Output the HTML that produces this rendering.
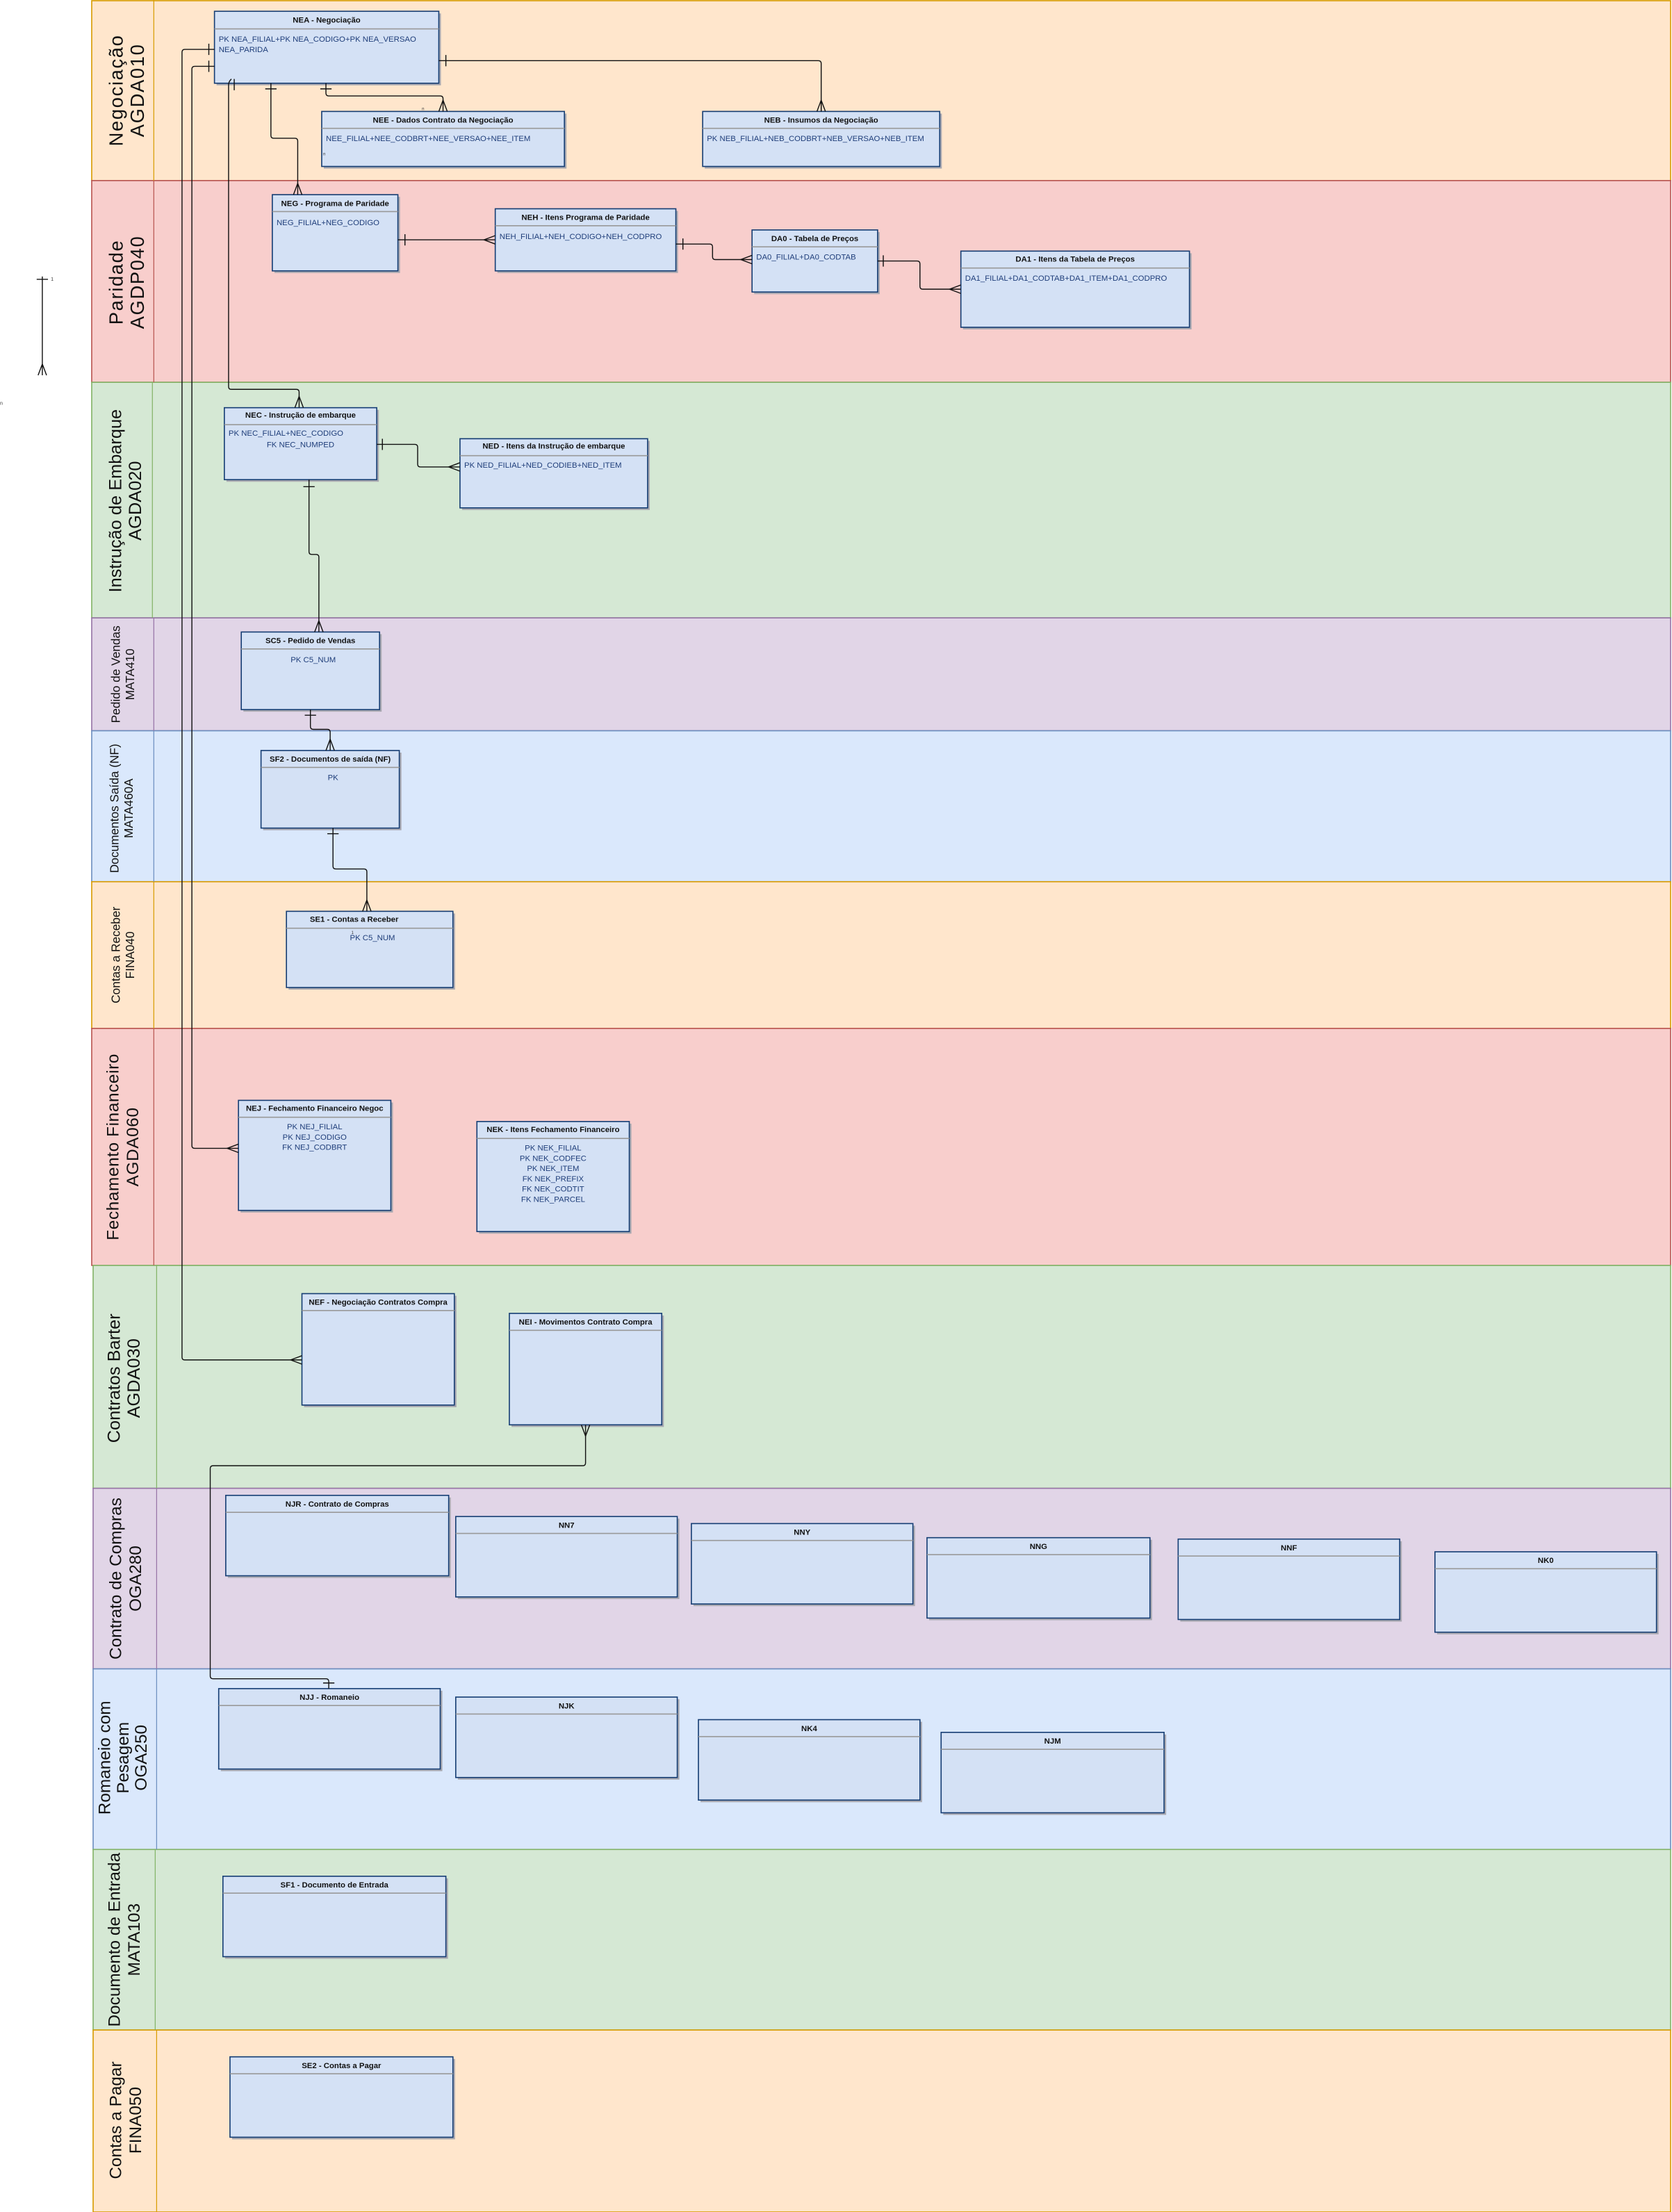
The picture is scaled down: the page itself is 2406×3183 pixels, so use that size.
<!DOCTYPE html>
<html><head><meta charset="utf-8"><style>
html,body{margin:0;padding:0;background:#fff}
svg{display:block}
.h{font-family:"Liberation Sans Narrow","Liberation Sans",sans-serif;font-size:5.6px;font-weight:bold;fill:#111;text-anchor:middle}
.a{font-family:"Liberation Sans Narrow","Liberation Sans",sans-serif;font-size:5.6px;fill:#1f3e7a}
.l{font-family:"Liberation Sans",sans-serif;fill:#111;text-anchor:middle}
.c{fill:none;stroke:#111;stroke-width:0.7}
</style></head><body>
<svg width="2406" height="3183" viewBox="0 0 1185 1568" preserveAspectRatio="none" xmlns="http://www.w3.org/2000/svg">
<g stroke-width="0.8">
<rect x="65" y="0.5" width="1119" height="127.5" fill="#ffe6cc" stroke="#d79b00"/>
<rect x="65" y="128" width="1119" height="143" fill="#f8cecc" stroke="#b85450"/>
<rect x="65" y="271" width="1119" height="167" fill="#d5e8d4" stroke="#82b366"/>
<rect x="65" y="438" width="1119" height="80" fill="#e1d5e7" stroke="#9673a6"/>
<rect x="65" y="518" width="1119" height="107" fill="#dae8fc" stroke="#6c8ebf"/>
<rect x="65" y="625" width="1119" height="104" fill="#ffe6cc" stroke="#d79b00"/>
<rect x="65" y="729" width="1119" height="168" fill="#f8cecc" stroke="#b85450"/>
<rect x="66" y="897" width="1118" height="158" fill="#d5e8d4" stroke="#82b366"/>
<rect x="66" y="1055" width="1118" height="128" fill="#e1d5e7" stroke="#9673a6"/>
<rect x="66" y="1183" width="1118" height="128" fill="#dae8fc" stroke="#6c8ebf"/>
<rect x="66" y="1311" width="1118" height="128" fill="#d5e8d4" stroke="#82b366"/>
<rect x="66" y="1439" width="1118" height="129" fill="#ffe6cc" stroke="#d79b00"/>
</g>
<g stroke-width="0.6" fill="none">
<line x1="109" y1="0" x2="109" y2="128" stroke="#d79b00"/>
<line x1="109" y1="128" x2="109" y2="271" stroke="#b85450"/>
<line x1="108" y1="271" x2="108" y2="438" stroke="#82b366"/>
<line x1="109" y1="438" x2="109" y2="518" stroke="#9673a6"/>
<line x1="109" y1="518" x2="109" y2="625" stroke="#6c8ebf"/>
<line x1="109" y1="625" x2="109" y2="729" stroke="#d79b00"/>
<line x1="109" y1="729" x2="109" y2="897" stroke="#b85450"/>
<line x1="111" y1="897" x2="111" y2="1055" stroke="#82b366"/>
<line x1="111" y1="1055" x2="111" y2="1183" stroke="#9673a6"/>
<line x1="111" y1="1183" x2="111" y2="1311" stroke="#6c8ebf"/>
<line x1="110" y1="1311" x2="110" y2="1439" stroke="#82b366"/>
<line x1="111" y1="1439" x2="111" y2="1568" stroke="#d79b00"/>
</g>
<g class="l">
<text transform="translate(87,64) rotate(-90)" font-size="13.5" letter-spacing="0.8"><tspan x="0" dy="0">Negociação</tspan><tspan x="0" dy="15">AGDA010</tspan></text>
<text transform="translate(87,200) rotate(-90)" font-size="13.5" letter-spacing="0.8"><tspan x="0">Paridade</tspan><tspan x="0" dy="15">AGDP040</tspan></text>
<text transform="translate(86,355) rotate(-90)" font-size="12.5"><tspan x="0">Instrução de Embarque</tspan><tspan x="0" dy="14">AGDA020</tspan></text>
<text transform="translate(85,478) rotate(-90)" font-size="8.5"><tspan x="0">Pedido de Vendas</tspan><tspan x="0" dy="10">MATA410</tspan></text>
<text transform="translate(84,573) rotate(-90)" font-size="8.5"><tspan x="0">Documentos Saída (NF)</tspan><tspan x="0" dy="10">MATA460A</tspan></text>
<text transform="translate(85,677) rotate(-90)" font-size="8.5"><tspan x="0">Contas a Receber</tspan><tspan x="0" dy="10">FINA040</tspan></text>
<text transform="translate(84,813) rotate(-90)" font-size="12" letter-spacing="0.3"><tspan x="0">Fechamento Financeiro</tspan><tspan x="0" dy="14">AGDA060</tspan></text>
<text transform="translate(85,977) rotate(-90)" font-size="12.5"><tspan x="0">Contratos Barter</tspan><tspan x="0" dy="14">AGDA030</tspan></text>
<text transform="translate(86,1119) rotate(-90)" font-size="12"><tspan x="0">Contrato de Compras</tspan><tspan x="0" dy="14">OGA280</tspan></text>
<text transform="translate(78,1246) rotate(-90)" font-size="12"><tspan x="0">Romaneio com</tspan><tspan x="0" dy="13">Pesagem</tspan><tspan x="0" dy="13">OGA250</tspan></text>
<text transform="translate(85,1375) rotate(-90)" font-size="12"><tspan x="0">Documento de Entrada</tspan><tspan x="0" dy="14">MATA103</tspan></text>
<text transform="translate(86,1503) rotate(-90)" font-size="12"><tspan x="0">Contas a Pagar</tspan><tspan x="0" dy="14">FINA050</tspan></text>
</g>
<g stroke-width="0.8">
<g>
<rect x="153.5" y="9.5" width="159" height="51" fill="#a8a8b0"/><rect x="152" y="8" width="159" height="51" fill="#d4e1f5" stroke="#163e74"/><line x1="152" y1="20.5" x2="311" y2="20.5" stroke="#999"/>
<text class="h" x="231.5" y="16">NEA - Negociação</text><text class="a" x="155" y="29.5">PK NEA_FILIAL+PK NEA_CODIGO+PK NEA_VERSAO</text><text class="a" x="155" y="37">NEA_PARIDA</text>
</g>
<g>
<rect x="229.5" y="80.5" width="172" height="39" fill="#a8a8b0"/><rect x="228" y="79" width="172" height="39" fill="#d4e1f5" stroke="#163e74"/><line x1="228" y1="91" x2="400" y2="91" stroke="#999"/>
<text class="h" x="314" y="87">NEE - Dados Contrato da Negociação</text><text class="a" x="231" y="100">NEE_FILIAL+NEE_CODBRT+NEE_VERSAO+NEE_ITEM</text>
</g>
<g>
<rect x="499.5" y="80.5" width="168" height="39" fill="#a8a8b0"/><rect x="498" y="79" width="168" height="39" fill="#d4e1f5" stroke="#163e74"/><line x1="498" y1="91" x2="666" y2="91" stroke="#999"/>
<text class="h" x="582" y="87">NEB - Insumos da Negociação</text><text class="a" x="501" y="100">PK NEB_FILIAL+NEB_CODBRT+NEB_VERSAO+NEB_ITEM</text>
</g>
<g>
<rect x="194.5" y="139.5" width="89" height="54" fill="#a8a8b0"/><rect x="193" y="138" width="89" height="54" fill="#d4e1f5" stroke="#163e74"/><line x1="193" y1="150" x2="282" y2="150" stroke="#999"/>
<text class="h" x="237.5" y="146">NEG - Programa de Paridade</text><text class="a" x="196" y="159.5">NEG_FILIAL+NEG_CODIGO</text>
</g>
<g>
<rect x="352.5" y="149.5" width="128" height="44" fill="#a8a8b0"/><rect x="351" y="148" width="128" height="44" fill="#d4e1f5" stroke="#163e74"/><line x1="351" y1="160" x2="479" y2="160" stroke="#999"/>
<text class="h" x="415" y="156">NEH - Itens Programa de Paridade</text><text class="a" x="354" y="169.5">NEH_FILIAL+NEH_CODIGO+NEH_CODPRO</text>
</g>
<g>
<rect x="534.5" y="164.5" width="89" height="44" fill="#a8a8b0"/><rect x="533" y="163" width="89" height="44" fill="#d4e1f5" stroke="#163e74"/><line x1="533" y1="175" x2="622" y2="175" stroke="#999"/>
<text class="h" x="577.5" y="171">DA0 - Tabela de Preços</text><text class="a" x="536" y="184">DA0_FILIAL+DA0_CODTAB</text>
</g>
<g>
<rect x="682.5" y="179.5" width="162" height="54" fill="#a8a8b0"/><rect x="681" y="178" width="162" height="54" fill="#d4e1f5" stroke="#163e74"/><line x1="681" y1="190" x2="843" y2="190" stroke="#999"/>
<text class="h" x="762" y="185.5">DA1 - Itens da Tabela de Preços</text><text class="a" x="684" y="199">DA1_FILIAL+DA1_CODTAB+DA1_ITEM+DA1_CODPRO</text>
</g>
<g>
<rect x="160.5" y="290.5" width="108" height="51" fill="#a8a8b0"/><rect x="159" y="289" width="108" height="51" fill="#d4e1f5" stroke="#163e74"/><line x1="159" y1="301" x2="267" y2="301" stroke="#999"/>
<text class="h" x="213" y="296">NEC - Instrução de embarque</text><text class="a" x="162" y="309">PK NEC_FILIAL+NEC_CODIGO</text><text class="a" x="213" y="317" text-anchor="middle">FK NEC_NUMPED</text>
</g>
<g>
<rect x="327.5" y="312.5" width="133" height="49" fill="#a8a8b0"/><rect x="326" y="311" width="133" height="49" fill="#d4e1f5" stroke="#163e74"/><line x1="326" y1="323" x2="459" y2="323" stroke="#999"/>
<text class="h" x="392.5" y="318">NED - Itens da Instrução de embarque</text><text class="a" x="329" y="331.5">PK NED_FILIAL+NED_CODIEB+NED_ITEM</text>
</g>
<g>
<rect x="172.5" y="449.5" width="98" height="55" fill="#a8a8b0"/><rect x="171" y="448" width="98" height="55" fill="#d4e1f5" stroke="#163e74"/><line x1="171" y1="460" x2="269" y2="460" stroke="#999"/>
<text class="h" x="220" y="456">SC5 - Pedido de Vendas</text><text class="a" x="222" y="469.5" text-anchor="middle">PK C5_NUM</text>
</g>
<g>
<rect x="186.5" y="533.5" width="98" height="55" fill="#a8a8b0"/><rect x="185" y="532" width="98" height="55" fill="#d4e1f5" stroke="#163e74"/><line x1="185" y1="544" x2="283" y2="544" stroke="#999"/>
<text class="h" x="234" y="540">SF2 - Documentos de saída (NF)</text><text class="a" x="236" y="553" text-anchor="middle">PK</text>
</g>
<g>
<rect x="204.5" y="647.5" width="118" height="54" fill="#a8a8b0"/><rect x="203" y="646" width="118" height="54" fill="#d4e1f5" stroke="#163e74"/><line x1="203" y1="658" x2="321" y2="658" stroke="#999"/>
<text class="h" x="251" y="653.5">SE1 - Contas a Receber</text><text class="a" x="264" y="666.5" text-anchor="middle">PK C5_NUM</text>
</g>
<g>
<rect x="170.5" y="781.5" width="108" height="78" fill="#a8a8b0"/><rect x="169" y="780" width="108" height="78" fill="#d4e1f5" stroke="#163e74"/><line x1="169" y1="792" x2="277" y2="792" stroke="#999"/>
<text class="h" x="223" y="787.5">NEJ - Fechamento Financeiro Negoc</text>
<g class="a" text-anchor="middle"><text x="223" y="800.5">PK NEJ_FILIAL</text><text x="223" y="808">PK NEJ_CODIGO</text><text x="223" y="815">FK NEJ_CODBRT</text></g>
</g>
<g>
<rect x="339.5" y="796.5" width="108" height="78" fill="#a8a8b0"/><rect x="338" y="795" width="108" height="78" fill="#d4e1f5" stroke="#163e74"/><line x1="338" y1="807" x2="446" y2="807" stroke="#999"/>
<text class="h" x="392" y="802.5">NEK - Itens Fechamento Financeiro</text>
<g class="a" text-anchor="middle"><text x="392" y="815.5">PK NEK_FILIAL</text><text x="392" y="823">PK NEK_CODFEC</text><text x="392" y="830">PK NEK_ITEM</text><text x="392" y="837.5">FK NEK_PREFIX</text><text x="392" y="844.5">FK NEK_CODTIT</text><text x="392" y="852">FK NEK_PARCEL</text></g>
</g>
<g>
<rect x="215.5" y="918.5" width="108" height="79" fill="#a8a8b0"/><rect x="214" y="917" width="108" height="79" fill="#d4e1f5" stroke="#163e74"/><line x1="214" y1="929" x2="322" y2="929" stroke="#999"/>
<text class="h" x="268" y="925">NEF - Negociação Contratos Compra</text>
</g>
<g>
<rect x="362.5" y="932.5" width="108" height="79" fill="#a8a8b0"/><rect x="361" y="931" width="108" height="79" fill="#d4e1f5" stroke="#163e74"/><line x1="361" y1="943" x2="469" y2="943" stroke="#999"/>
<text class="h" x="415" y="939">NEI - Movimentos Contrato Compra</text>
</g>
<g>
<rect x="161.5" y="1061.5" width="158" height="57" fill="#a8a8b0"/><rect x="160" y="1060" width="158" height="57" fill="#d4e1f5" stroke="#163e74"/><line x1="160" y1="1072" x2="318" y2="1072" stroke="#999"/>
<text class="h" x="239" y="1068">NJR - Contrato de Compras</text>
</g>
<g>
<rect x="324.5" y="1076.5" width="157" height="57" fill="#a8a8b0"/><rect x="323" y="1075" width="157" height="57" fill="#d4e1f5" stroke="#163e74"/><line x1="323" y1="1087" x2="480" y2="1087" stroke="#999"/>
<text class="h" x="401.5" y="1083">NN7</text>
</g>
<g>
<rect x="491.5" y="1081.5" width="157" height="57" fill="#a8a8b0"/><rect x="490" y="1080" width="157" height="57" fill="#d4e1f5" stroke="#163e74"/><line x1="490" y1="1092" x2="647" y2="1092" stroke="#999"/>
<text class="h" x="568.5" y="1088">NNY</text>
</g>
<g>
<rect x="658.5" y="1091.5" width="158" height="57" fill="#a8a8b0"/><rect x="657" y="1090" width="158" height="57" fill="#d4e1f5" stroke="#163e74"/><line x1="657" y1="1102" x2="815" y2="1102" stroke="#999"/>
<text class="h" x="736" y="1098">NNG</text>
</g>
<g>
<rect x="836.5" y="1092.5" width="157" height="57" fill="#a8a8b0"/><rect x="835" y="1091" width="157" height="57" fill="#d4e1f5" stroke="#163e74"/><line x1="835" y1="1103" x2="992" y2="1103" stroke="#999"/>
<text class="h" x="913.5" y="1099">NNF</text>
</g>
<g>
<rect x="1018.5" y="1101.5" width="157" height="57" fill="#a8a8b0"/><rect x="1017" y="1100" width="157" height="57" fill="#d4e1f5" stroke="#163e74"/><line x1="1017" y1="1112" x2="1174" y2="1112" stroke="#999"/>
<text class="h" x="1095.5" y="1108">NK0</text>
</g>
<g>
<rect x="156.5" y="1198.5" width="157" height="57" fill="#a8a8b0"/><rect x="155" y="1197" width="157" height="57" fill="#d4e1f5" stroke="#163e74"/><line x1="155" y1="1209" x2="312" y2="1209" stroke="#999"/>
<text class="h" x="233.5" y="1205">NJJ - Romaneio</text>
</g>
<g>
<rect x="324.5" y="1204.5" width="157" height="57" fill="#a8a8b0"/><rect x="323" y="1203" width="157" height="57" fill="#d4e1f5" stroke="#163e74"/><line x1="323" y1="1215" x2="480" y2="1215" stroke="#999"/>
<text class="h" x="401.5" y="1211">NJK</text>
</g>
<g>
<rect x="496.5" y="1220.5" width="157" height="57" fill="#a8a8b0"/><rect x="495" y="1219" width="157" height="57" fill="#d4e1f5" stroke="#163e74"/><line x1="495" y1="1231" x2="652" y2="1231" stroke="#999"/>
<text class="h" x="573.5" y="1227">NK4</text>
</g>
<g>
<rect x="668.5" y="1229.5" width="158" height="57" fill="#a8a8b0"/><rect x="667" y="1228" width="158" height="57" fill="#d4e1f5" stroke="#163e74"/><line x1="667" y1="1240" x2="825" y2="1240" stroke="#999"/>
<text class="h" x="746" y="1236">NJM</text>
</g>
<g>
<rect x="159.5" y="1331.5" width="158" height="57" fill="#a8a8b0"/><rect x="158" y="1330" width="158" height="57" fill="#d4e1f5" stroke="#163e74"/><line x1="158" y1="1342" x2="316" y2="1342" stroke="#999"/>
<text class="h" x="237" y="1338">SF1 - Documento de Entrada</text>
</g>
<g>
<rect x="164.5" y="1459.5" width="158" height="57" fill="#a8a8b0"/><rect x="163" y="1458" width="158" height="57" fill="#d4e1f5" stroke="#163e74"/><line x1="163" y1="1470" x2="321" y2="1470" stroke="#999"/>
<text class="h" x="242" y="1466">SE2 - Contas a Pagar</text>
</g>
</g>
<g class="c">
<path d="M311 43 H580 Q582 43 582 45 V79"/><path d="M316 39 V47 M579 79 L582 71 L585 79 M582 71 V79"/>
<path d="M231 59 V66 Q231 68 233 68 H312 Q314 68 314 70 V79"/><path d="M227 63 H235 M311 79 L314 71 L317 79"/>
<path d="M192 59 V96 Q192 98 194 98 H209 Q211 98 211 100 V138"/><path d="M188 63 H196 M208 138 L211 130 L214 138"/>
<path d="M164 56 Q162 58 162 60 V274 Q162 276 164 276 H210 Q212 276 212 278 V289"/><path d="M166 56 V64 M209 289 L212 281 L215 289"/>
<path d="M152 35 H131 Q129 35 129 37 V962 Q129 964 131 964 H214"/><path d="M148 31 V39 M214 961 L206 964 L214 967"/>
<path d="M152 47 H138 Q136 47 136 49 V812 Q136 814 138 814 H169"/><path d="M148 43 V51 M169 811 L161 814 L169 817"/>
<path d="M282 170 H351"/><path d="M287 166 V174 M351 167 L343 170 L351 173"/>
<path d="M479 173 H503 Q505 173 505 175 V182 Q505 184 507 184 H533"/><path d="M484 169 V177 M533 181 L525 184 L533 187"/>
<path d="M622 185 H650 Q652 185 652 187 V203 Q652 205 654 205 H681"/><path d="M626 181 V189 M681 202 L673 205 L681 208"/>
<path d="M267 315 H294 Q296 315 296 317 V329 Q296 331 298 331 H326"/><path d="M271 311 V319 M326 328 L318 331 L326 334"/>
<path d="M219 340 V391 Q219 393 221 393 H224 Q226 393 226 395 V448"/><path d="M215 345 H223 M223 448 L226 440 L229 448"/>
<path d="M220 503 V515 Q220 517 222 517 H232 Q234 517 234 519 V532"/><path d="M216 507 H224 M231 532 L234 524 L237 532"/>
<path d="M236 587 V614 Q236 616 238 616 H258 Q260 616 260 618 V646"/><path d="M232 591 H240 M257 646 L260 638 L263 646"/>
<path d="M415 1010 V1037 Q415 1039 413 1039 H151 Q149 1039 149 1041 V1188 Q149 1190 151 1190 H231 Q233 1190 233 1192 V1197"/><path d="M412 1010 L415 1018 L418 1010 M229 1193 H237"/>
<path d="M30 196 V266 M26 198 H34 M27 266 L30 258 L33 266"/>
</g>
<g font-family="Liberation Sans,sans-serif" font-size="3.5" fill="#333"><text x="36" y="199">1</text><text x="0" y="287">n</text><text x="299" y="78" font-size="3">n</text><text x="229" y="110" font-size="3">n</text><text x="249" y="662" font-size="3">1</text></g>
</svg>
</body></html>
